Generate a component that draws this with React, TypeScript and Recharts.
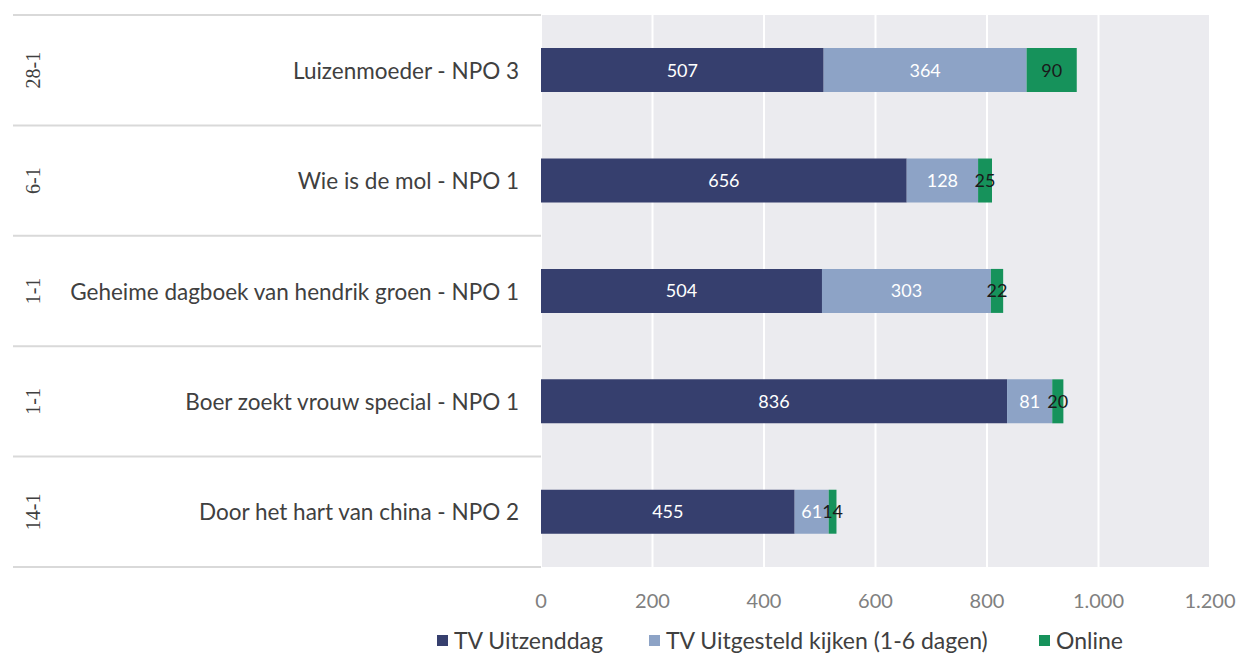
import React from "react";
import {
  BarChart,
  Bar,
  XAxis,
  YAxis,
  CartesianGrid,
  LabelList,
} from "recharts";

const programs = [
  "Luizenmoeder - NPO 3",
  "Wie is de mol - NPO 1",
  "Geheime dagboek van hendrik groen - NPO 1",
  "Boer zoekt vrouw special - NPO 1",
  "Door het hart van china - NPO 2",
];
const dates = ["28-1", "6-1", "1-1", "1-1", "14-1"];
const tvUitzenddag = [507, 656, 504, 836, 455];
const tvUitgesteld = [364, 128, 303, 81, 61];
const online = [90, 25, 22, 20, 14];
const xTicks = [0, 200, 400, 600, 800, 1000, 1200];

const seriesNames = [
  "TV Uitzenddag",
  "TV Uitgesteld kijken (1-6 dagen)",
  "Online",
];
const colors = ["#363F6E", "#8DA3C6", "#16925B"];
const legendLefts = [437, 649, 1039];

const data = programs.map((name, i) => ({
  name,
  date: dates[i],
  a: tvUitzenddag[i],
  b: tvUitgesteld[i],
  c: online[i],
}));

const FONT = "Lato, 'Open Sans', sans-serif";

const fmt = (v: number) => v.toString().replace(/\B(?=(\d{3})+(?!\d))/g, ".");

const CategoryTick = (props: any) => {
  const { y, payload, index } = props;
  const half = payload && payload.offset ? payload.offset : 55;
  const last = index === programs.length - 1;
  return (
    <g>
      <line x1={13} x2={541} y1={y - half} y2={y - half} stroke="#D9D9D9" strokeWidth={2} />
      {last && (
        <line x1={13} x2={541} y1={y + half} y2={y + half} stroke="#D9D9D9" strokeWidth={2} />
      )}
      <text
        x={519}
        y={y}
        textAnchor="end"
        dominantBaseline="central"
        fontFamily={FONT}
        fontSize={22.5}
        fill="#404040"
      >
        {payload.value}
      </text>
      <text
        transform={`translate(33,${y}) rotate(-90)`}
        textAnchor="middle"
        dominantBaseline="central"
        fontFamily="'Liberation Serif', 'DejaVu Serif', serif"
        fontSize={20}
        fill="#404040"
      >
        {dates[index]}
      </text>
    </g>
  );
};

export default function App() {
  return (
    <div style={{ position: "absolute", left: 0, top: 0, width: 1241, height: 653, background: "#fff" }}>
      <BarChart
        width={1241}
        height={653}
        data={data}
        layout="vertical"
        margin={{ top: 15, right: 31, bottom: 56, left: 0 }}
        barCategoryGap="30%"
      >
        <CartesianGrid
          horizontal={false}
          vertical={true}
          fill="#EBEBEF"
          stroke="#FFFFFF"
          strokeWidth={2}
        />
        <XAxis
          type="number"
          domain={[0, 1200]}
          ticks={xTicks}
          tickFormatter={fmt}
          axisLine={false}
          tickLine={false}
          tick={{ fill: "#808080", fontSize: 20, fontFamily: FONT }}
          tickMargin={21}
          height={30}
        />
        <YAxis
          type="category"
          dataKey="name"
          width={541}
          axisLine={false}
          tickLine={false}
          tick={<CategoryTick />}
          interval={0}
        />
        <Bar dataKey="a" stackId="s" fill={colors[0]} isAnimationActive={false}>
          <LabelList dataKey="a" position="center" fill="#FFFFFF" fontSize={18} fontFamily={FONT} />
        </Bar>
        <Bar dataKey="b" stackId="s" fill={colors[1]} isAnimationActive={false}>
          <LabelList dataKey="b" position="center" fill="#FFFFFF" fontSize={18} fontFamily={FONT} />
        </Bar>
        <Bar dataKey="c" stackId="s" fill={colors[2]} isAnimationActive={false}>
          <LabelList dataKey="c" position="center" fill="#1A1A1A" fontSize={18} fontFamily={FONT} />
        </Bar>
      </BarChart>
      {seriesNames.map((n, i) => (
        <div
          key={n}
          style={{
            position: "absolute",
            left: legendLefts[i],
            top: 626,
            display: "flex",
            alignItems: "center",
            fontFamily: FONT,
            fontSize: 23,
            lineHeight: "28px",
            color: "#404040",
            whiteSpace: "nowrap",
          }}
        >
          <span
            style={{
              display: "inline-block",
              width: 11,
              height: 11,
              background: colors[i],
              marginRight: 6,
            }}
          />
          <span>{n}</span>
        </div>
      ))}
    </div>
  );
}
